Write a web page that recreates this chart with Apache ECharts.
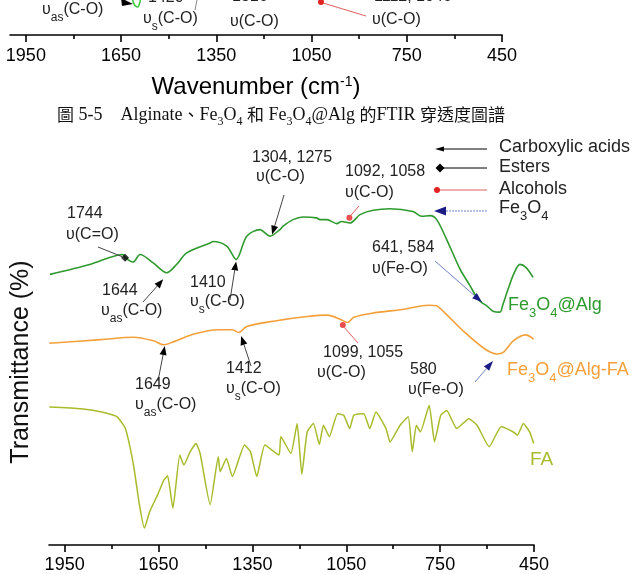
<!DOCTYPE html>
<html><head><meta charset="utf-8">
<script src="https://cdn.jsdelivr.net/npm/echarts@6/dist/echarts.min.js"></script>
<style>html,body{margin:0;padding:0;background:#fff}#c{width:633px;height:574px}</style>
</head><body><div id="c"></div>
<script>
// ---- data (wavenumber cm-1, offset transmittance) ----
const wnAlg = [1997,1869,1763,1757,1731,1709,1667,1624,1592,1560,1485,1476,1432,1402,1368,1326,1294,1262,1252,1220,1188,1145,1134,1112,1080,1065,1038,1006,964,910,837,809,782,761,729,686,654,633,617,601,581,559,549,533,514,495,476,453];
const tAlg  = [68.0,70.5,73.0,72.2,71.1,73.0,70.9,68.4,70.5,73.4,75.9,76.25,75.1,71.75,77.6,79.25,77.6,79.25,80.1,81.75,82.4,82.2,81.75,81.75,80.75,81.3,80.9,83.0,84.1,84.5,83.8,82.6,82.75,81.75,76.75,69.25,65.1,62.2,60.9,60.1,58.75,58.5,60.5,64.25,68.25,70.5,69.75,67.25];
const wnAlgFA = [1999,1834,1730,1666,1633,1601,1537,1459,1414,1394,1368,1278,1175,1110,1070,1046,1026,968,865,787,762,736,671,607,568,548,516,477,451];
const tAlgFA  = [50.7,51.6,52.2,51.3,50.3,51.1,53.0,54.1,54.1,53.4,54.9,56.3,57.4,57.75,56.75,55.9,57.2,58.25,59.25,60.25,60.1,58.4,53.4,49.25,48.0,48.4,51.3,52.8,51.75];
const wnFA = [1999,1898,1821,1782,1756,1730,1711,1695,1678,1653,1633,1621,1604,1582,1569,1549,1530,1517,1485,1459,1453,1433,1414,1375,1356,1336,1310,1265,1259,1227,1207,1192,1175,1155,1136,1123,1104,1078,1058,1039,1026,994,975,955,923,910,878,852,839,826,813,785,768,748,729,697,658,632,593,555,516,503,484,464,451];
const tFA  = [34.7,34.25,33.25,32.2,29.25,20.1,10.1,4.25,8.4,12.6,16.3,17.4,9.25,22.6,20.1,23.4,25.5,23.0,10.1,22.2,18.4,21.75,17.2,25.1,23.4,17.2,25.1,22.6,27.2,23.0,30.5,17.75,28.4,30.5,25.25,30.1,27.2,33.0,32.6,29.25,32.6,33.0,29.25,33.4,29.25,25.9,30.1,32.2,23.4,30.1,28.4,35.1,25.9,32.6,33.8,29.25,31.75,30.1,24.7,29.7,28.4,27.6,30.5,28.4,25.5];
// fragment of the previous figure (top)
const wnTop = [1614,1610,1605,1598,1592,1589];
const tTop  = [10.5,9.0,8.3,8.0,9.0,10.5];
// markers
const esterPt = [1757, 72.2];
const alcoholPts = [[1040, 82.2],[1061, 55.3]];
// axis ticks
const majorTicks = [1950,1650,1350,1050,750,450];
const minorTicks = [1800,1500,1200,900,600];

const F = "'Liberation Sans', Arial, sans-serif";
const cGreen = '#2f9a2f', cOrange = '#f4a03a', cFA = '#a9bb2a', cNavy = '#1c1c86', cRed = '#e32222';
const zip = (a,b)=>a.map((x,i)=>[x,b[i]]);

const chart = echarts.init(document.getElementById('c'), null, {renderer:'canvas'});

function xAxisPair(grid){
  return [
    {gridIndex:grid, type:'value', position:'bottom', min:450, max:2000, inverse:true,
     axisLine:{show:true, onZero:false, lineStyle:{color:'#000', width:1.6}},
     axisTick:{show:true, customValues:majorTicks, length:7, lineStyle:{color:'#000', width:1.6}},
     axisLabel:{show:true, customValues:majorTicks, fontSize:18, color:'#000', fontFamily:F, margin:11, formatter:(v)=>String(v)},
     splitLine:{show:false}},
    {gridIndex:grid, type:'value', position:'bottom', min:450, max:2000, inverse:true,
     axisLine:{show:false, onZero:false},
     axisTick:{show:true, customValues:minorTicks, length:4, lineStyle:{color:'#000', width:1.6}},
     axisLabel:{show:false}, splitLine:{show:false}}
  ];
}
const xa = xAxisPair(0).concat(xAxisPair(1));
xa[2].axisLabel.margin = 12;
xa[2].name = '{t|Wavenumber (cm}{p|-1}{t|)}';
xa[2].nameLocation = 'middle';
xa[2].nameGap = 36;
xa[2].nameTextStyle = {rich:{
  t:{fontSize:24, fontFamily:F, color:'#000', lineHeight:28, verticalAlign:'bottom'},
  p:{fontSize:14, fontFamily:F, color:'#000', lineHeight:28, padding:[0,0,10,0], verticalAlign:'bottom'}}};

const option = {
  animation:false,
  backgroundColor:'#fff',
  grid:[{left:49, right:99, top:147, bottom:27},{left:10, right:131, top:0, height:35}],
  xAxis: xa,
  yAxis:[{gridIndex:0, min:0, max:100, show:false},{gridIndex:1, min:0, max:10, show:false}],
  series:[
    {type:'line', name:'Fe3O4@Alg', xAxisIndex:0, yAxisIndex:0, data:zip(wnAlg,tAlg), showSymbol:false, smooth:0.3, lineStyle:{color:cGreen, width:1.6}},
    {type:'line', name:'Fe3O4@Alg-FA', xAxisIndex:0, yAxisIndex:0, data:zip(wnAlgFA,tAlgFA), showSymbol:false, smooth:0.3, lineStyle:{color:cOrange, width:1.6}},
    {type:'line', name:'FA', xAxisIndex:0, yAxisIndex:0, data:zip(wnFA,tFA), showSymbol:false, smooth:0.15, lineStyle:{color:cFA, width:1.5}},
    {type:'line', xAxisIndex:2, yAxisIndex:1, data:zip(wnTop,tTop), showSymbol:false, smooth:true, clip:true, lineStyle:{color:'#3ecb3e', width:1.6}},
    {type:'scatter', xAxisIndex:0, yAxisIndex:0, data:[esterPt], symbol:'diamond', symbolSize:[8,8], itemStyle:{color:'#000'}, z:5},
    {type:'scatter', xAxisIndex:0, yAxisIndex:0, data:alcoholPts, symbol:'circle', symbolSize:6, itemStyle:{color:cRed}, z:5}
  ]
};
chart.setOption(option);

// ---- annotations ----
const P = (wn,v)=>chart.convertToPixel({xAxisIndex:0, yAxisIndex:0},[wn,v]);
function arrow(x1,y1,x2,y2,lineColor,headColor,hl,hw){
  hl = hl||9; hw = hw||3.5;
  const dx=x2-x1, dy=y2-y1, L=Math.hypot(dx,dy), ux=dx/L, uy=dy/L;
  const bx=x2-ux*hl, by=y2-uy*hl;
  return [
    {type:'line', shape:{x1:x1,y1:y1,x2:bx,y2:by}, style:{stroke:lineColor, lineWidth:1}, z:10},
    {type:'polygon', shape:{points:[[x2,y2],[bx-uy*hw,by+ux*hw],[bx+uy*hw,by-ux*hw]]}, style:{fill:headColor}, z:10}
  ];
}
function seg(x1,y1,x2,y2,color,dash){
  return {type:'line', shape:{x1:x1,y1:y1,x2:x2,y2:y2}, style:{stroke:color, lineWidth:1, lineDash:dash||null}, z:10};
}
function richStyle(size, color){
  return {
    n:{fontSize:size, fontFamily:F, fill:color, lineHeight:size+4, verticalAlign:'top'},
    s:{fontSize:Math.round(size*0.72), fontFamily:F, fill:color, lineHeight:Math.round(size*0.72), padding:[Math.round(size*0.6),0,0,0], verticalAlign:'top'}
  };
}
function txt(x,y,text,size,color,extra){
  const st = {text:text, rich:richStyle(size,color), fill:color, font:size+'px '+F, verticalAlign:'middle', align:'left'};
  if(extra) Object.assign(st, extra);
  return {type:'text', x:x, y:y, style:st, z:11};
}
const g = [];
const dark = '#222', aLine = '#444';

// main chart annotations (Fe3O4@Alg)
g.push(txt(67,216,'{n|1744}',16,dark), txt(66,237,'{n|υ(C=O)}',16,dark));
(function(){const p=P(esterPt[0],esterPt[1]); g.push(seg(98,247,p[0]-3,p[1]-1,aLine));})();
g.push(txt(102,293,'{n|1644}',16,dark), txt(101,313,'{n|υ}{s|as}{n|(C-O)}',16,dark));
(function(){const p=P(1635,66.75); g.push(...arrow(143,302,p[0],p[1],aLine,'#000'));})();
g.push(txt(190,285,'{n|1410}',16,dark), txt(190,304,'{n|υ}{s|s}{n|(C-O)}',16,dark));
(function(){const p=P(1402,71.25); g.push(...arrow(230,300,p[0],p[1],aLine,'#000'));})();
g.push(txt(252,160,'{n|1304, 1275}',16,dark), txt(256,179,'{n|υ(C-O)}',16,dark));
(function(){const p=P(1287,78); g.push(...arrow(284,195,p[0],p[1],aLine,'#000'));})();
g.push(txt(345,174,'{n|1092, 1058}',16,dark), txt(345,195,'{n|υ(C-O)}',16,dark));
(function(){const p=P(alcoholPts[0][0],alcoholPts[0][1]); g.push(seg(359,206,p[0]+1,p[1]-2,'#e06060'));})();
g.push(txt(372,250,'{n|641, 584}',16,dark), txt(372,271,'{n|υ(Fe-O)}',16,dark));
(function(){const p=P(616,61); g.push(...arrow(435,261,p[0],p[1],'#6f7fc0',cNavy,10,3.5));})();
// Fe3O4@Alg-FA annotations
g.push(txt(135,387,'{n|1649}',16,dark), txt(135,407,'{n|υ}{s|as}{n|(C-O)}',16,dark));
(function(){const p=P(1630,50); g.push(...arrow(158,381,p[0],p[1],aLine,'#000'));})();
g.push(txt(226,371,'{n|1412}',16,dark), txt(226,391,'{n|υ}{s|s}{n|(C-O)}',16,dark));
(function(){const p=P(1386,52.5); g.push(...arrow(251,366,p[0],p[1],aLine,'#000'));})();
g.push(txt(323,355,'{n|1099, 1055}',16,dark), txt(317,375,'{n|υ(C-O)}',16,dark));
(function(){const p=P(alcoholPts[1][0],alcoholPts[1][1]); g.push(seg(358,343,p[0]+1,p[1]+2,'#e06060'));})();
g.push(txt(410,372,'{n|580}',16,dark), txt(408,392,'{n|υ(Fe-O)}',16,dark));
(function(){const p=P(581,46.25); g.push(...arrow(475,382,p[0],p[1],'#6f7fc0',cNavy,10,3.5));})();

// series names
g.push(txt(508,307,'{n|Fe}{s|3}{n|O}{s|4}{n|@Alg}',18,cGreen));
g.push(txt(507,372,'{n|Fe}{s|3}{n|O}{s|4}{n|@Alg-FA}',18,cOrange));
g.push(txt(530,462,'{n|FA}',19,cFA));

// legend
g.push(...arrow(487,149,435,149,'#000','#000',9,2.5));
g.push(txt(499,149,'{n|Carboxylic acids}',18,dark));
g.push(seg(487,168,440,168,'#000'), {type:'polygon', shape:{points:[[440,163.5],[444.5,168],[440,172.5],[435.5,168]]}, style:{fill:'#000'}, z:10});
g.push(txt(499,169,'{n|Esters}',18,dark));
g.push(seg(487,190,437,190,'#e06060'), {type:'circle', shape:{cx:437,cy:190,r:3}, style:{fill:cRed}, z:10});
g.push(txt(499,191,'{n|Alcohols}',18,dark));
g.push(seg(487,211,445,211,'#6f7fc0',[2,1]), {type:'polygon', shape:{points:[[434,211],[446,206.5],[446,215.5]]}, style:{fill:cNavy}, z:10});
g.push(txt(499,210,'{n|Fe}{s|3}{n|O}{s|4}',18,dark));

// y axis title
g.push({type:'text', x:21, y:362, rotation:Math.PI/2, style:{text:'Transmittance (%)', font:'25px '+F, fill:'#111', align:'center', verticalAlign:'middle'}, z:11});

// caption
g.push({type:'text', x:57, y:117, style:{
  text:'{k|圖}{c| 5-5    Alginate}{k|、}{c|Fe}{s|3}{c|O}{s|4}{c| }{k|和}{c| Fe}{s|3}{c|O}{s|4}{c|@Alg }{k|的}{c|FTIR }{k|穿透度圖譜}',
  verticalAlign:'middle', align:'left',
  rich:{
    c:{fontFamily:"'Liberation Serif', serif", fontSize:18, fill:'#111', lineHeight:21, verticalAlign:'top'},
    s:{fontFamily:"'Liberation Serif', serif", fontSize:12, fill:'#111', lineHeight:12, padding:[9,0,0,0], verticalAlign:'top'},
    k:{fontFamily:"'Noto Sans CJK TC', sans-serif", fontSize:17, fill:'#111', lineHeight:21, verticalAlign:'top'}
  }}, z:11});

// top fragment annotations (previous figure, cut off)
g.push(txt(42,12,'{n|υ}{s|as}{n|(C-O)}',16,dark));
g.push(txt(148,0,'{n|1420}',16,dark), txt(143,21,'{n|υ}{s|s}{n|(C-O)}',16,dark));
g.push(txt(232,-1,'{n|1316}',16,dark), txt(230,24,'{n|υ(C-O)}',16,dark));
g.push(txt(374,-1,'{n|1112, 1046}',16,dark), txt(372,22,'{n|υ(C-O)}',16,dark));
g.push({type:'polygon', shape:{points:[[133,4],[121,-2],[122,6]]}, style:{fill:'#000'}, z:10});
g.push(seg(197,0,195,10,'#888'));
g.push({type:'circle', shape:{cx:321,cy:2,r:3}, style:{fill:cRed}, z:10});
g.push(seg(323,3,366,16,'#e06060'));

chart.setOption({graphic:{elements:g}});
</script></body></html>
